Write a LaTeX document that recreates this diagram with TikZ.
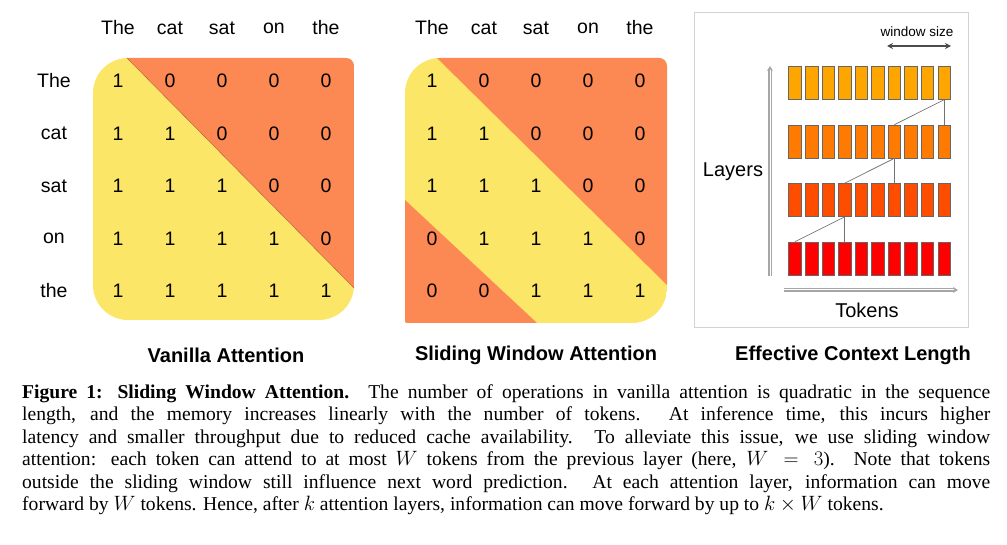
\documentclass[tikz,border=0pt]{standalone}
\usepackage{fontspec}
\setmainfont{Liberation Serif}
\newfontfamily\arialf{Liberation Sans}
\usetikzlibrary{arrows.meta}
\definecolor{ylw}{RGB}{252,230,104}
\definecolor{org}{RGB}{252,136,84}
\definecolor{cA}{RGB}{255,165,0}
\definecolor{cB}{RGB}{255,122,0}
\definecolor{cC}{RGB}{255,77,0}
\definecolor{cD}{RGB}{255,0,0}
\begin{document}
\begin{tikzpicture}[x=1pt,y=-1pt,
  lbl/.style={font=\arialf\fontsize{19.5}{20}\selectfont,inner sep=0pt},
  captitle/.style={font=\arialf\bfseries\fontsize{20}{20}\selectfont,inner sep=0pt},
  bar/.style={draw=gray!80!black,line width=0.6pt,minimum width=12.5pt,minimum height=33pt,inner sep=0pt},
  link/.style={draw=gray!90!black,line width=0.7pt},
  hollow/.style={draw=gray!70,line width=1.6pt,double=white,double distance=1pt,-{Stealth[length=5pt,width=6pt,open]}}]
\useasboundingbox (0,0) rectangle (1007,545);
% ---------- panel 1
\begin{scope}
\clip[rounded corners=35pt] (93,200) -- (93,58) [rounded corners=8pt] -- (354,58) [rounded corners=35pt] -- (354,320) -- (93,320) -- cycle;
\fill[ylw] (93,58) rectangle (354,320);
\fill[org] (127,58) -- (354,58) -- (354,288) -- cycle;
\end{scope}
\draw[org!70!black,line width=0.4pt] (127,58) -- (354,288);
\foreach \w [count=\i] in {The,cat,sat,on,the}{
  \node[lbl] (h1\i) at ({118+52*(\i-1)},28) {\w};
  \node[lbl] (r1\i) at (54,{81+52.5*(\i-1)}) {\w};
}
\foreach \r in {1,...,5}{\foreach \c in {1,...,5}{
  \pgfmathtruncatemacro\v{\c<=\r ? 1 : 0}
  \node[lbl] (a\r\c) at ({118+52*(\c-1)},{81+52.5*(\r-1)}) {\v};
}}
\node[captitle] (c1) at (226,355) {Vanilla Attention};
% ---------- panel 2
\begin{scope}
\clip[rounded corners=35pt] (405,200) -- (405,58) [rounded corners=8pt] -- (667,58) [rounded corners=35pt] -- (667,323) [rounded corners=2pt] -- (405,323) -- cycle;
\fill[ylw] (405,58) rectangle (667,323);
\fill[org] (437,58) -- (667,58) -- (667,285) -- cycle;
\fill[org] (405,200) -- (537,323) -- (405,323) -- cycle;
\end{scope}
\foreach \w [count=\i] in {The,cat,sat,on,the}{
  \node[lbl] (h2\i) at ({432+52*(\i-1)},28) {\w};
}
\foreach \r in {1,...,5}{\foreach \c in {1,...,5}{
  \pgfmathtruncatemacro\v{(\c<=\r && \c>\r-3) ? 1 : 0}
  \node[lbl] (b\r\c) at ({432+52*(\c-1)},{81+52.5*(\r-1)}) {\v};
}}
\node[captitle] (c2) at (536,355) {Sliding Window Attention};
% ---------- panel 3
\draw[gray!35,line width=0.6pt] (694,12) rectangle (968,327);
\foreach \col [count=\r] in {cA,cB,cC,cD}{
  \foreach \c in {1,...,10}{
    \node[bar,fill=\col] (t\r\c) at ({795+16.56*(\c-1)},{83+58.5*(\r-1)}) {};
  }
}
\draw[link] (t110.south) -- (t210.north);
\draw[link] (t110.south) -- (t27.north);
\draw[link] (t27.south) -- (t37.north);
\draw[link] (t27.south) -- (t34.north);
\draw[link] (t34.south) -- (t44.north);
\draw[link] (t34.south) -- (t41.north);
\coordinate (la0) at (770,276);
\coordinate (la1) at (770,66);
\draw[hollow] (la0) -- (la1);
\coordinate (ta0) at (784,290);
\coordinate (ta1) at (958,290);
\draw[hollow] (ta0) -- (ta1);
\coordinate (w0) at (887,46);
\coordinate (w1) at (951,46);
\draw[gray!60!black,line width=1.2pt,{Stealth[length=6pt,width=6pt]}-{Stealth[length=6pt,width=6pt]}] (w0) -- (w1);
\node[font=\arialf\fontsize{13.5}{14}\selectfont,inner sep=0pt] (ws) at (917,32) {window size};
\node[font=\arialf\fontsize{20}{20}\selectfont,inner sep=0pt] (ly) at (733,172) {Layers};
\node[font=\arialf\fontsize{20}{20}\selectfont,inner sep=0pt] (tk) at (867,310) {Tokens};
\node[captitle] (c3) at (853,355) {Effective Context Length};
% ---------- caption
\node[anchor=north west,inner sep=0pt,text width=968pt,align=justify,font=\fontsize{19.6}{22.5}\selectfont] (fc) at (22,384)
{\textbf{Figure 1: Sliding Window Attention.} The number of operations in vanilla attention is quadratic in the sequence\linebreak length, and the memory increases linearly with the number of tokens. At inference time, this incurs higher\linebreak latency and smaller throughput due to reduced cache availability. To alleviate this issue, we use sliding window\linebreak attention: each token can attend to at most $W$ tokens from the previous layer (here, $W=3$). Note that tokens\linebreak outside the sliding window still influence next word prediction. At each attention layer, information can move\linebreak forward by $W$ tokens. Hence, after $k$ attention layers, information can move forward by up to $k\times W$ tokens.};
\end{tikzpicture}
\end{document}
